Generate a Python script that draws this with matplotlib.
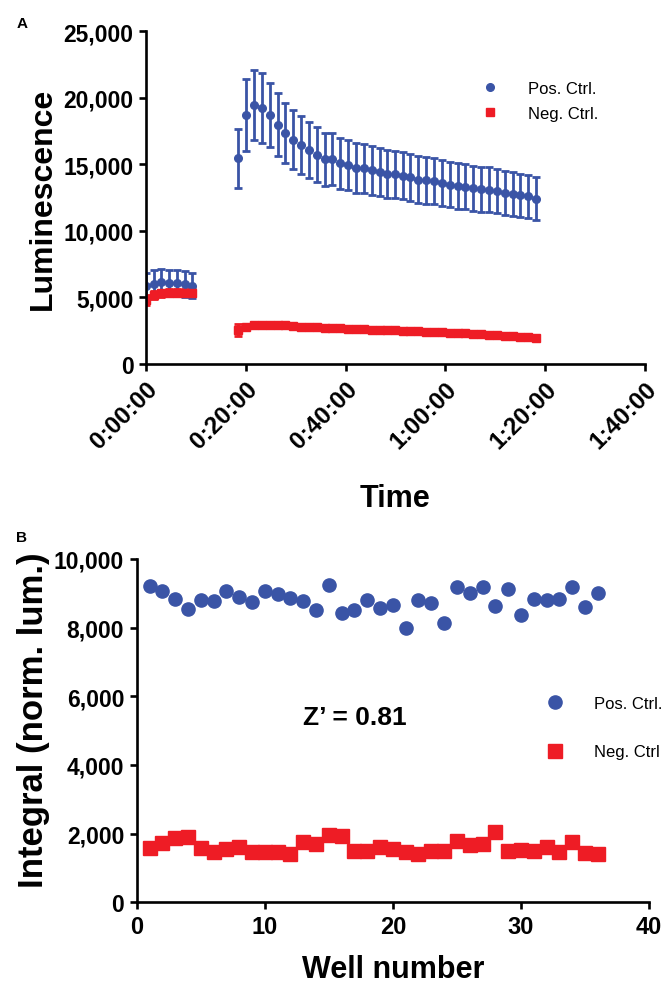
import matplotlib
matplotlib.use('Agg')
import matplotlib.pyplot as plt

plt.rcParams['font.family'] = ['Liberation Sans', 'DejaVu Sans']

BLUE = '#3a54a6'
RED = '#ee1c25'

# panel A: luminescence over time (minutes)
t_early = [0, 1.55, 3.1, 4.65, 6.2, 7.75, 9.3]
pos_early = [5830, 6030, 6130, 6080, 6080, 6030, 5880]
pos_early_err = [1000, 1000, 1000, 1000, 980, 980, 950]
neg_early = [4800, 5150, 5300, 5350, 5350, 5350, 5350]
neg_early_err = [350, 300, 250, 250, 250, 250, 250]

t_late = [18.5, 20.1, 21.6, 23.2, 24.8, 26.4, 27.9, 29.5, 31.1, 32.6,
          34.2, 35.8, 37.3, 38.9, 40.5, 42.1, 43.6, 45.2, 46.8, 48.3,
          49.9, 51.5, 53.0, 54.6, 56.2, 57.8, 59.3, 60.9, 62.5, 64.0,
          65.6, 67.2, 68.7, 70.3, 71.9, 73.5, 75.0, 76.6, 78.2]
pos_late = [15440, 18700, 19460, 19200, 18700, 17970, 17350, 16840, 16440, 16090,
            15710, 15360, 15360, 15080, 14930, 14710, 14680, 14530, 14430, 14280,
            14230, 14130, 14030, 13830, 13780, 13720, 13620, 13470, 13370, 13300,
            13200, 13120, 13100, 12970, 12870, 12770, 12670, 12590, 12420]
pos_late_err = [2240, 2700, 2610, 2640, 2430, 2380, 2250, 2200, 2150, 2100,
                2050, 2000, 1950, 1920, 1900, 1880, 1860, 1840, 1820, 1800,
                1790, 1780, 1770, 1760, 1750, 1740, 1730, 1720, 1710, 1700,
                1690, 1680, 1670, 1660, 1650, 1640, 1630, 1620, 1610]
neg_late = [2550, 2800, 2900, 2950, 2950, 2940, 2900, 2850, 2800, 2780,
            2750, 2720, 2700, 2680, 2650, 2620, 2600, 2580, 2560, 2540,
            2520, 2500, 2480, 2450, 2430, 2420, 2400, 2350, 2330, 2300,
            2270, 2230, 2200, 2170, 2130, 2100, 2060, 2000, 1950]
neg_late_err = [440] + [150] * 38

time_ticks = [0, 20, 40, 60, 80, 100]
time_labels = ['0:00:00', '0:20:00', '0:40:00', '1:00:00', '1:20:00', '1:40:00']
lum_ticks = [0, 5000, 10000, 15000, 20000, 25000]

# panel B: integrals per well
wells = list(range(1, 37))
pos_well = [9200, 9070, 8830, 8540, 8810, 8780, 9070, 8880, 8750, 9070,
            8980, 8850, 8780, 8520, 9250, 8420, 8510, 8800, 8570, 8660,
            7980, 8800, 8710, 8150, 9170, 9000, 9170, 8620, 9140, 8360,
            8830, 8810, 8830, 9170, 8590, 9000]
neg_well = [1570, 1730, 1860, 1890, 1570, 1460, 1550, 1600, 1460, 1460,
            1460, 1410, 1750, 1700, 1960, 1920, 1500, 1500, 1600, 1550,
            1460, 1410, 1480, 1480, 1800, 1670, 1700, 2040, 1500, 1530,
            1500, 1600, 1460, 1770, 1440, 1410]
well_ticks = [0, 10, 20, 30, 40]
int_ticks = [0, 2000, 4000, 6000, 8000, 10000]

W, H = 665, 987
fig = plt.figure(figsize=(W / 100, H / 100), dpi=100)


def style(ax):
    for s in ['top', 'right']:
        ax.spines[s].set_visible(False)
    for s in ['left', 'bottom']:
        ax.spines[s].set_linewidth(1.9)
    ax.tick_params(width=1.9, length=5, direction='out', pad=4)
    for lab in ax.get_xticklabels() + ax.get_yticklabels():
        lab.set_fontweight('bold')


# ---- panel A
axA = fig.add_axes([146 / W, 1 - 365 / H, 499 / W, 333 / H])
eb = dict(fmt='o', color=BLUE, ms=5.5, elinewidth=2.0, capsize=2.6, capthick=2.0)
axA.errorbar(t_early, pos_early, yerr=pos_early_err, **eb)
axA.errorbar(t_late, pos_late, yerr=pos_late_err, label='Pos. Ctrl.', **eb)
ebn = dict(fmt='s', color=RED, ms=5.5, elinewidth=2.0, capsize=2.6, capthick=2.0)
axA.errorbar(t_early, neg_early, yerr=neg_early_err, **ebn)
axA.errorbar(t_late, neg_late, yerr=neg_late_err, label='Neg. Ctrl.', **ebn)
axA.set_xlim(0, 100)
axA.set_ylim(0, 25000)
axA.set_xticks(time_ticks)
axA.set_xticklabels(time_labels, rotation=45, ha='right', rotation_mode='anchor', fontsize=17.5)
axA.set_yticks(lum_ticks)
axA.set_yticklabels([f'{v:,}' for v in lum_ticks], fontsize=16.5)
axA.set_ylabel('Luminescence', fontsize=23, fontweight='bold', labelpad=4)
axA.set_xlabel('Time', fontsize=22, fontweight='bold', labelpad=22)
style(axA)
h, l = axA.get_legend_handles_labels()
axA.legend([hh[0] for hh in h], l, loc='upper left', bbox_to_anchor=(478 / W, 1 - 82 / H),
           bbox_transform=fig.transFigure, frameon=False, fontsize=12,
           handlelength=1.4, handletextpad=1.6, labelspacing=0.6, borderpad=0, borderaxespad=0)
fig.text(22 / W, 1 - 24 / H, 'A', fontsize=11, fontweight='bold', ha='center', va='center')

# ---- panel B
axB = fig.add_axes([136.7 / W, 1 - 903.3 / H, 512.3 / W, 343.3 / H])
axB.plot(wells, pos_well, 'o', color=BLUE, ms=9.5, label='Pos. Ctrl.')
axB.plot(wells, neg_well, 's', color=RED, ms=10, label='Neg. Ctrl')
axB.set_xlim(0, 40)
axB.set_ylim(0, 10000)
axB.set_xticks(well_ticks)
axB.set_xticklabels([str(v) for v in well_ticks], fontsize=17)
axB.set_yticks(int_ticks)
axB.set_yticklabels([f'{v:,}' for v in int_ticks], fontsize=16.5)
axB.set_ylabel('Integral (norm. lum.)', fontsize=25, fontweight='bold', labelpad=3)
axB.yaxis.label.set_y(0.534)
axB.set_xlabel('Well number', fontsize=22, fontweight='bold', labelpad=12)
style(axB)
axB.legend(loc='upper left', bbox_to_anchor=(542 / W, 1 - 697 / H),
           bbox_transform=fig.transFigure, frameon=False, fontsize=12,
           handlelength=1.6, handletextpad=1.5, labelspacing=2.0, borderpad=0, borderaxespad=0)
axB.text(355 / W, 1 - 718 / H, "Z\u2019 = 0.81", transform=fig.transFigure, fontsize=19,
         fontweight='bold', ha='center', va='center')
fig.text(22 / W, 1 - 538 / H, 'B', fontsize=11, fontweight='bold', ha='center', va='center')

fig.savefig('out.png', dpi=100)
